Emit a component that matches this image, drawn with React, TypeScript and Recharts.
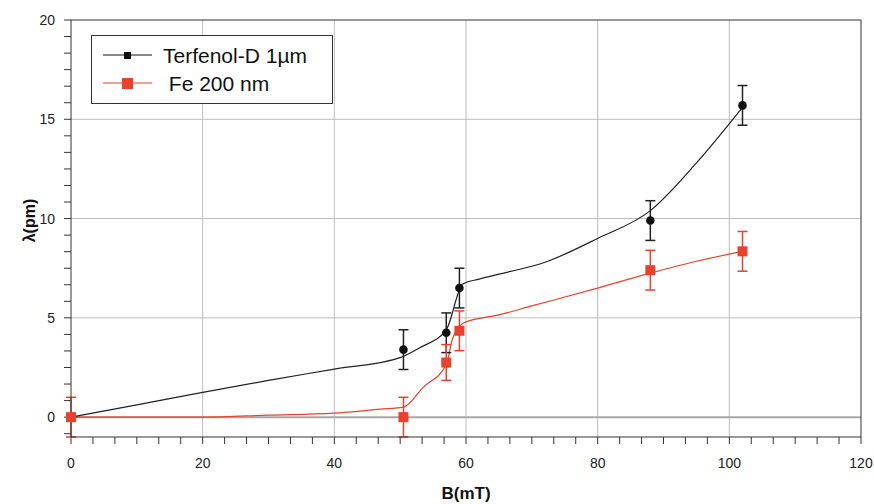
import {
  CartesianGrid,
  ComposedChart,
  ErrorBar,
  Line,
  ReferenceLine,
  Scatter,
  XAxis,
  YAxis,
} from "recharts"

// measured points
const fieldMT = [0, 50.5, 57, 59, 88, 102]
const terfenolPm = [0, 3.4, 4.25, 6.5, 9.9, 15.7]
const terfenolErr = [null, 1, 1, 1, 1, 1]
const fePm = [0, 0, 2.75, 4.35, 7.4, 8.35]
const feErr = [1, 1, 0.9, 1, 1, 1]

// smoothed curves as drawn in the figure
const terfenolCurveB = [0, 10, 20, 30, 40, 50, 53, 57, 59.5, 62, 65, 72, 80, 88, 95, 102]
const terfenolCurvePm = [0, 0.62, 1.25, 1.85, 2.42, 3.0, 3.5, 4.4, 6.7, 6.95, 7.2, 7.8, 9.0, 10.4, 12.8, 15.6]
const feCurveB = [0, 20, 30, 40, 47, 50.5, 53.5, 57, 58, 59.7, 65, 70, 80, 88, 95, 102]
const feCurvePm = [0, 0, 0.1, 0.2, 0.4, 0.5, 1.5, 2.65, 4.0, 4.75, 5.15, 5.6, 6.5, 7.25, 7.85, 8.35]

const xMajorTicks = [0, 20, 40, 60, 80, 100, 120]
const yMajorTicks = [0, 5, 10, 15, 20]
const minorSteps = 6

const series = [
  { name: "Terfenol-D 1µm", color: "#111111" },
  { name: " Fe 200 nm", color: "#e8412c" },
]

const toPoints = (b: number[], v: number[], err?: (number | null)[]) =>
  b.map((x, i) => ({ b: x, lam: v[i], err: err ? err[i] : null }))

const terfenolPoints = toPoints(fieldMT, terfenolPm, terfenolErr)
const fePoints = toPoints(fieldMT, fePm, feErr)
const terfenolCurve = toPoints(terfenolCurveB, terfenolCurvePm)
const feCurve = toPoints(feCurveB, feCurvePm)

function minorTicks(major: number[], lo: number, hi: number) {
  const step = (major[1] - major[0]) / minorSteps
  const out: number[] = []
  for (let v = major[0] - major[1]; v <= major[major.length - 1] + 1e-9; v += step) {
    const r = Math.round(v * 1000) / 1000
    if (r >= lo - 1e-9 && r <= hi + 1e-9) out.push(r)
  }
  return out
}

const xTicks = minorTicks(xMajorTicks, 0, 120)
const yTicks = minorTicks(yMajorTicks, -1, 20)

const isMajor = (v: number, major: number[]) => major.some((m) => Math.abs(m - v) < 1e-6)

const font = "'Liberation Sans', Arial, Helvetica, sans-serif"
const tickStyle = { fill: "#222", fontSize: 14, fontFamily: font }

const Dot = (props: any) => <circle cx={props.cx} cy={props.cy} r={4.3} fill="#111" />
const Square = (props: any) => (
  <rect x={props.cx - 5} y={props.cy - 5} width={10} height={10} fill="#e8412c" />
)

function LegendBox() {
  return (
    <svg
      width={242}
      height={70}
      style={{ position: "absolute", left: 91, top: 35, overflow: "visible" }}
    >
      <rect x={0.5} y={0.5} width={241} height={68} fill="#fff" stroke="#333" strokeWidth={1} />
      <line x1={12} x2={61} y1={20} y2={20} stroke={series[0].color} strokeWidth={1.2} />
      <rect x={33} y={17} width={7} height={7} fill={series[0].color} />
      <text x={72} y={28} fontSize={21} fontFamily={font} fill="#111">
        {series[0].name}
      </text>
      <line x1={12} x2={61} y1={48} y2={48} stroke={series[1].color} strokeWidth={1.2} />
      <rect x={31} y={43} width={11} height={11} fill={series[1].color} />
      <text x={72} y={56} fontSize={21} fontFamily={font} fill="#111" xmlSpace="preserve">
        {series[1].name}
      </text>
    </svg>
  )
}

export default function App() {
  return (
    <div style={{ position: "absolute", left: 0, top: 0, width: 874, height: 504, background: "#fff" }}>
      <ComposedChart width={874} height={504} margin={{ top: 0, right: 0, bottom: 0, left: 0 }}>
        <CartesianGrid
          xAxisId="b"
          yAxisId="l"
          stroke="#bdbdbd"
          strokeWidth={1}
          horizontalValues={[5, 10, 15]}
          verticalValues={[20, 40, 60, 80, 100]}
        />
        <XAxis
          xAxisId="b"
          dataKey="b"
          type="number"
          domain={[0, 120]}
          ticks={xTicks}
          interval={0}
          height={67}
          tickSize={7}
          tickMargin={14}
          stroke="#333"
          tick={tickStyle}
          tickFormatter={(v: number) => (isMajor(v, xMajorTicks) ? String(Math.round(v)) : "")}
          label={{
            value: "B(mT)",
            position: "insideBottom",
            offset: 5,
            style: { fontSize: 17, fontWeight: "bold", fill: "#111", fontFamily: font },
          }}
        />
        <XAxis
          xAxisId="top"
          orientation="top"
          type="number"
          domain={[0, 120]}
          ticks={xTicks}
          interval={0}
          height={20}
          tickSize={7}
          tick={false}
          stroke="#333"
        />
        <YAxis
          yAxisId="l"
          dataKey="lam"
          type="number"
          domain={[-1, 20]}
          ticks={yTicks}
          interval={0}
          width={71}
          tickSize={7}
          tickMargin={9}
          stroke="#333"
          tick={tickStyle}
          tickFormatter={(v: number) => (isMajor(v, yMajorTicks) ? String(Math.round(v)) : "")}
          label={{
            value: "λ(pm)",
            angle: -90,
            position: "center",
            dx: -6,
            dy: -8,
            style: { fontSize: 16, fontWeight: "bold", fill: "#111", fontFamily: font },
          }}
        />
        <YAxis
          yAxisId="r"
          orientation="right"
          type="number"
          domain={[-1, 20]}
          ticks={yTicks}
          interval={0}
          width={13}
          tickSize={7}
          tick={false}
          stroke="#333"
        />
        <ReferenceLine xAxisId="b" yAxisId="l" y={0} stroke="#a8a8a8" strokeWidth={2} />
        <Line
          xAxisId="b"
          yAxisId="l"
          data={feCurve}
          dataKey="lam"
          type="monotone"
          stroke={series[1].color}
          strokeWidth={1.2}
          dot={false}
          isAnimationActive={false}
        />
        <Line
          xAxisId="b"
          yAxisId="l"
          data={terfenolCurve}
          dataKey="lam"
          type="monotone"
          stroke="#222"
          strokeWidth={1.2}
          dot={false}
          isAnimationActive={false}
        />
        <Scatter
          xAxisId="b"
          yAxisId="l"
          data={terfenolPoints}
          dataKey="lam"
          shape={Dot}
          isAnimationActive={false}
        >
          <ErrorBar dataKey="err" direction="y" width={5} stroke="#222" strokeWidth={1.5} />
        </Scatter>
        <Scatter
          xAxisId="b"
          yAxisId="l"
          data={fePoints}
          dataKey="lam"
          shape={Square}
          isAnimationActive={false}
        >
          <ErrorBar dataKey="err" direction="y" width={5} stroke={series[1].color} strokeWidth={1.5} />
        </Scatter>
      </ComposedChart>
      <LegendBox />
    </div>
  )
}
